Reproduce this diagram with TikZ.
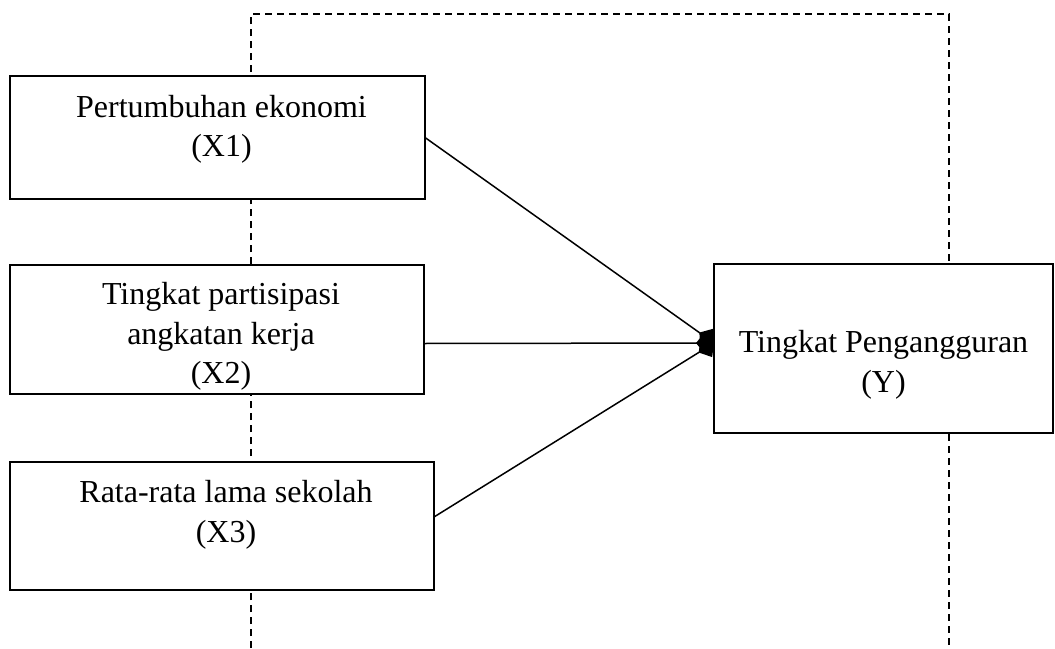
\documentclass[tikz,border=0pt]{standalone}
\usepackage{fontspec}
\setmainfont{Liberation Serif}
\usetikzlibrary{
    arrows.meta,
    positioning
}
\tikzset{box/.style={rectangle, draw=black, line width=1pt, fill=white, inner sep=0pt, outer sep=0pt, anchor=north west}}
\tikzset{lbl/.style={align=center, inner sep=0pt, font=\fontsize{16}{19.75}\selectfont}}
\tikzset{arr/.style={line width=0.75pt, -{Diamond[length=9pt, width=11pt]}}}
\tikzset{dashframe/.style={line width=1pt, dash pattern=on 3.5pt off 2.5pt}}

\begin{document}
\begin{tikzpicture}[x=0.5pt, y=-0.5pt]
                        \useasboundingbox (0, 0) rectangle (1055, 648);

                        \coordinate (fa) at (251, 648);
                        \coordinate (fb) at (251, 14);
                        \coordinate (fc) at (949, 14);
                        \coordinate (fd) at (949, 648);
                        \draw[dashframe] (fa) -- (fb) -- (fc) -- (fd);

                        \node[box, minimum width=207.5pt, minimum height=61.5pt] (pe) at (10, 76) {};
                        \node[box, minimum width=207pt, minimum height=64.5pt] (tpak) at (10, 265) {};
                        \node[box, minimum width=212pt, minimum height=64pt] (rls) at (10, 462) {};
                        \node[box, minimum width=169.5pt, minimum height=84.5pt] (tp) at (714, 264) {};

                        \node[lbl, below=9.3pt of pe.north, xshift=2pt] (pet) {Pertumbuhan ekonomi\\(X1)};
                        \node[lbl, below=8.6pt of tpak.north, xshift=2pt] (tpakt) {Tingkat partisipasi\\angkatan kerja\\(X2)};
                        \node[lbl, below=9.1pt of rls.north, xshift=2pt] (rlst) {Rata-rata lama sekolah\\(X3)};
                        \node[lbl, below=33pt of tp.north] (tpt) {Tingkat Pengangguran\\(Y)};

                        \coordinate (tip) at ([yshift=2.75pt]tp.west);
                        \draw[arr] (pe.east) -- (tip);
                        \draw[arr] ([yshift=-7pt]tpak.east) -- (tip);
                        \draw[arr] ([yshift=4.5pt]rls.east) -- (tip);
                    \end{tikzpicture}
\end{document}
